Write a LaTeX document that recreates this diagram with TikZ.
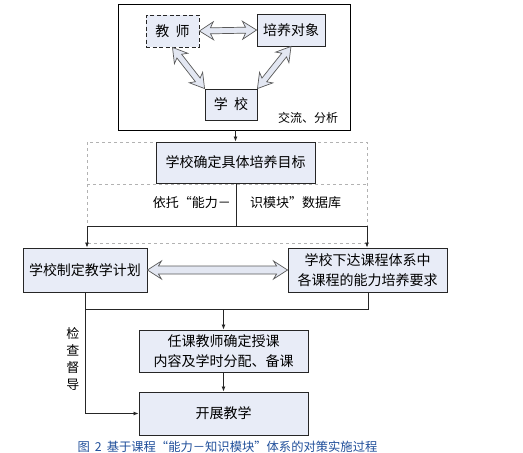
\documentclass[tikz,border=0pt]{standalone}
\usepackage{fontspec}
\setmainfont{Noto Sans CJK SC}
\usetikzlibrary{calc,arrows.meta}
\definecolor{boxfill}{HTML}{E8ECF7}
\definecolor{arrfill}{HTML}{E3E7F2}
\definecolor{arredge}{HTML}{5A5A5A}
\definecolor{capblue}{HTML}{1F4E9A}
\tikzset{
  box/.style={draw=black!85,line width=0.9pt,fill=boxfill,inner sep=0pt,align=center,font=\fontsize{14}{18}\selectfont},
  plainline/.style={draw=black!85,line width=0.8pt},
  arr/.style={plainline,-{Latex[length=5pt,width=4pt]}},
  gridline/.style={draw=black!30,dashed,line width=0.6pt},
}
% hollow double arrow between two points: #1 start, #2 end, #3 half head width, #4 half shaft width
\newcommand\hollowdbl[4]{%
  \coordinate (hA) at (#1); \coordinate (hB) at (#2);
  \coordinate (h1) at ($(hA)!14pt!(hB)$);
  \coordinate (h2) at ($(hB)!14pt!(hA)$);
  \coordinate (i1) at ($(hA)!11pt!(hB)$);
  \coordinate (i2) at ($(hB)!11pt!(hA)$);
  \path[draw=arredge,fill=arrfill,line width=0.7pt,line join=miter]
    (hA) -- ($(h1)!#3!90:(hB)$) -- ($(i1)!#4!90:(hB)$) -- ($(i2)!#4!-90:(hA)$)
    -- ($(h2)!#3!-90:(hA)$) -- (hB) -- ($(h2)!#3!90:(hA)$) -- ($(i2)!#4!90:(hA)$)
    -- ($(i1)!#4!-90:(hB)$) -- ($(h1)!#3!-90:(hB)$) -- cycle;
}
\begin{document}
\begin{tikzpicture}[x=1pt,y=-1pt]
\useasboundingbox (0,0) rectangle (523,453);
% top group
\node[draw=black,line width=0.9pt,minimum width=232pt,minimum height=126pt,inner sep=0pt] (outer) at (234,67) {};
\node[box,dash pattern=on 4pt off 2.5pt,minimum width=53pt,minimum height=32pt] (js) at (172.5,31) {教\ \ 师};
\node[box,minimum width=68pt,minimum height=32pt] (py) at (291,30) {培养对象};
\node[box,minimum width=52pt,minimum height=31pt] (xx) at (231,104.5) {学\ \ 校};
\node[font=\fontsize{12}{14}\selectfont,inner sep=0pt] (jl) at (308,118) {交流、分析};
\hollowdbl{js.east}{py.west}{9pt}{3pt}
\hollowdbl{js.south}{xx.north west}{8.5pt}{3pt}
\hollowdbl{py.south}{xx.north east}{8.5pt}{3pt}
% dashed grid
\draw[gridline] (87,142) rectangle (367,243);
\draw[gridline] (87,184) -- (367,184);
\node[box,minimum width=159pt,minimum height=41pt] (mb) at (235.5,162.5) {学校确定具体培养目标};
\draw[arr] (outer.south -| mb.north) -- (mb.north);
\coordinate (split) at (236,226);
\draw[plainline] (mb.south -| split) -- (split);
\node[anchor=east,inner sep=0pt,font=\fontsize{13}{15}\selectfont] (yt1) at (231,203) {依托“能力－};
\node[anchor=west,inner sep=0pt,font=\fontsize{13}{15}\selectfont] (yt2) at (250,203) {识模块”数据库};
% second row
\node[box,minimum width=124pt,minimum height=44pt] (jh) at (85,270) {学校制定教学计划};
\node[box,minimum width=159pt,minimum height=44pt,font=\fontsize{14}{20}\selectfont] (xd) at (367.5,270) {学校下达课程体系中\\各课程的能力培养要求};
\coordinate (sl) at (87,226);
\coordinate (sr) at (367,226);
\draw[plainline] (sl) -- (sr);
\draw[arr] (sl) -- (sl |- jh.north);
\draw[arr] (sr) -- (sr |- xd.north);
\hollowdbl{jh.east}{xd.west}{9pt}{4pt}
% third row
\node[box,minimum width=169pt,minimum height=42pt,font=\fontsize{14}{20}\selectfont] (rk) at (223.5,351) {任课教师确定授课\\内容及学时分配、备课};
\node[box,minimum width=169pt,minimum height=43pt] (kz) at (223.5,413.5) {开展教学};
\coordinate (jl2) at (85,309);
\coordinate (jr2) at (368,309);
\coordinate (jm2) at (223.5,309);
\draw[plainline] (jh.south -| jl2) -- (jl2) -- (jr2) -- (xd.south -| jr2);
\draw[arr] (jm2) -- (rk.north);
\draw[arr] (rk.south) -- (kz.north);
\draw[arr] (jl2) |- (kz.west);
\node[font=\fontsize{13}{17.3}\selectfont,align=center,inner sep=0pt] (jc) at (73,359) {检\\查\\督\\导};
% caption
\node[font=\fontsize{12.3}{14}\selectfont,text=capblue,inner sep=0pt] (cap) at (227.5,447) {图\hspace{5pt}2\hspace{5pt}基于课程“能力－知识模块”体系的对策实施过程};
\end{tikzpicture}
\end{document}
